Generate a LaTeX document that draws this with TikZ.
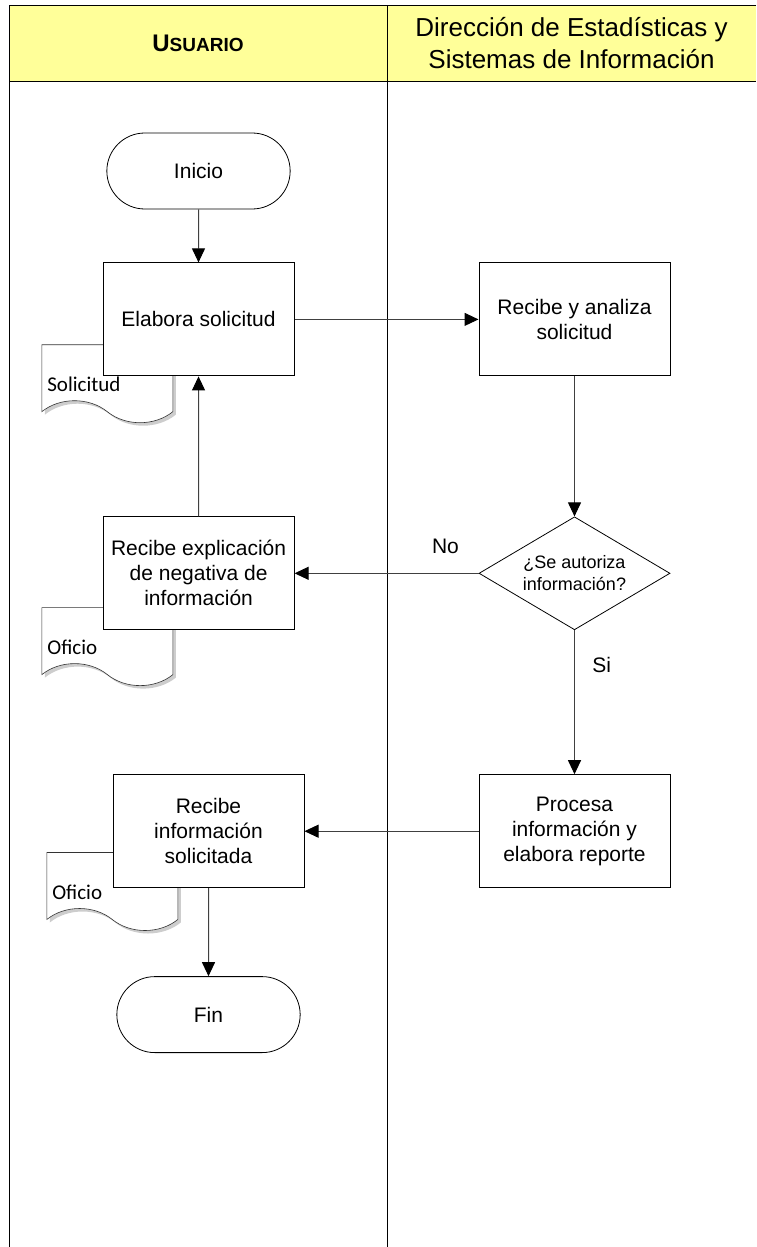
\documentclass[tikz,border=0pt]{standalone}
\usepackage{fontspec}
\setmainfont{Liberation Sans}
\newfontfamily\docfont{Carlito}
\usetikzlibrary{arrows.meta,positioning,shapes.geometric,shapes.misc,shapes.symbols,shadows,backgrounds}
\definecolor{HeadYellow}{RGB}{255,255,153}
\definecolor{LineGray}{RGB}{64,64,64}
\definecolor{ShadowGray}{RGB}{205,205,205}

\begin{document}
\begin{tikzpicture}[x=1pt,y=-1pt,
          font=\fontsize{21}{25}\selectfont,
          proc/.style={draw,line width=1pt,fill=white,minimum width=191pt,minimum height=113pt,align=center},
          term/.style={rounded rectangle,draw,line width=0.8pt,fill=white,minimum width=190pt,minimum height=76pt},
          dec/.style={diamond,draw,line width=0.8pt,fill=white,aspect=1.7,inner sep=0pt,
                      minimum width=191pt,minimum height=113pt,align=center,font=\fontsize{18}{22}\selectfont},
          docu/.style={tape,tape bend top=none,tape bend bottom=out and in,tape bend height=22pt,
                       draw=black!80,line width=0.6pt,fill=white,minimum width=131pt,minimum height=78pt,
                       inner sep=4pt,text width=120pt,text height=42pt,text depth=5pt,align=left,
                       font=\docfont\fontsize{21}{25}\selectfont,
                       drop shadow={shadow xshift=3pt,shadow yshift=-3pt,fill=ShadowGray,opacity=1}},
          ar/.style={-{Triangle[length=14pt,width=13pt,color=black]},line width=1pt,LineGray},
          lane/.style={line width=1pt,black}
        ]
          \useasboundingbox (0,0) rectangle (756,1247);
          \fill[HeadYellow] (9,6) rectangle (756,81);
          \draw[lane] (756,6) -- (9,6) -- (9,1247);
          \draw[lane] (9,81) -- (756,81);
          \draw[lane] (387,6) -- (387,1247);

          \node(hu) at (198,43.5){\bfseries\fontsize{24}{28}\selectfont U\fontsize{19}{28}\selectfont SUARIO};
          \node(hd)[align=center,font=\fontsize{26}{32}\selectfont] at (571.5,43.5){Dirección de Estadísticas y\\Sistemas de Información};

          \node(ini)[term] at (198.5,171){Inicio};
          \node(elab)[proc,below=53pt of ini]{Elabora solicitud};
          \node(anal)[proc,right=184pt of elab]{Recibe y analiza\\solicitud};
          \node(aut)[dec,below=140pt of anal]{¿Se autoriza\\información?};
          \node(neg)[proc,left=184pt of aut]{Recibe explicación\\de negativa de\\información};
          \node(rep)[proc,below=144pt of aut]{Procesa\\información y\\elabora reporte};
          \node(rinf)[proc,left=174pt of rep]{Recibe\\información\\solicitada};
          \node(fin)[term,below=88pt of rinf]{Fin};

          \begin{scope}[on background layer]
            \node(d1)[docu,anchor=north west,xshift=-61pt,yshift=32pt] at (elab.south west){Solicitud};
            \node(d2)[docu,anchor=north west,xshift=-61pt,yshift=23pt] at (neg.south west){Oficio};
            \node(d3)[docu,anchor=north west,xshift=-66pt,yshift=36pt] at (rinf.south west){Oficio};
          \end{scope}

          \draw[ar] (ini) -- (elab);
          \draw[ar] (elab) -- (anal);
          \draw[ar] (anal) -- (aut);
          \draw[ar] (aut) -- node(no)[pos=0.18,above=16pt,black]{No} (neg);
          \draw[ar] (neg) -- (elab);
          \draw[ar] (aut) -- node(si)[pos=0.24,right=14pt,black]{Si} (rep);
          \draw[ar] (rep) -- (rinf);
          \draw[ar] (rinf) -- (fin);
        \end{tikzpicture}
\end{document}
